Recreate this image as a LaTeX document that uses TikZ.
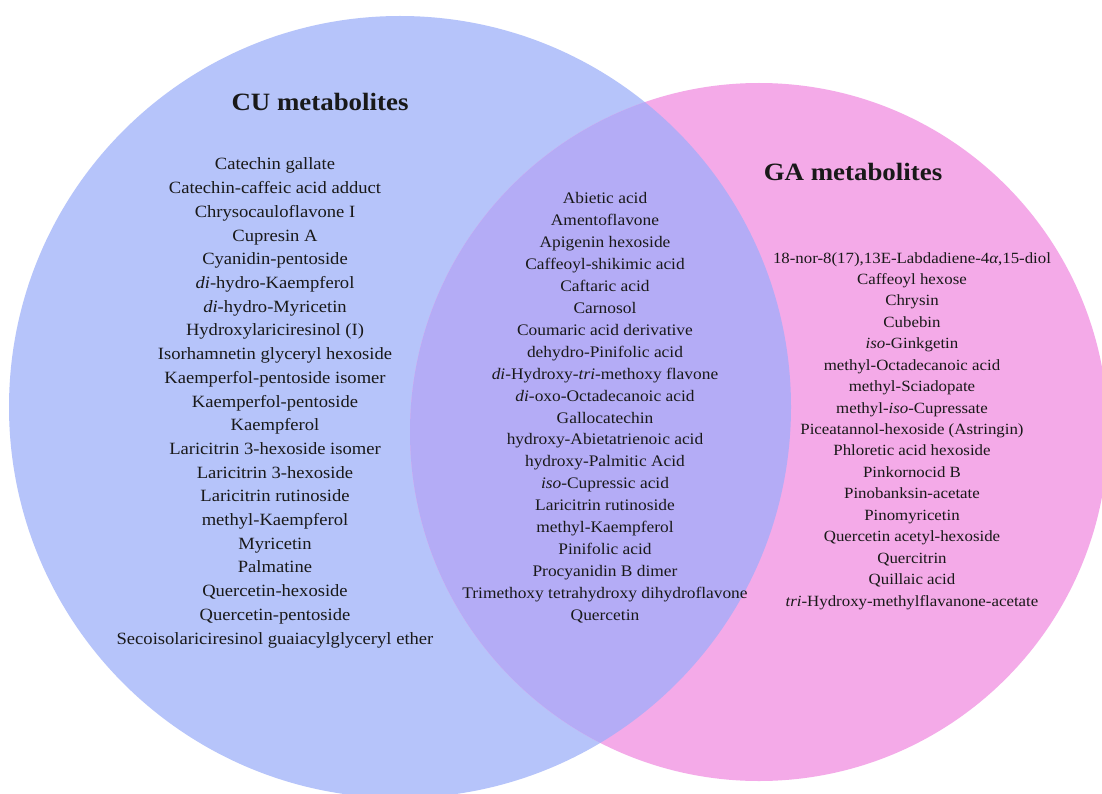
\documentclass[tikz,border=0pt]{standalone}
\usepackage{fontspec}
\setmainfont{Liberation Serif}[FakeStretch=1.08]
\definecolor{cublue}{RGB}{182,196,250}
\definecolor{gapink}{RGB}{244,170,232}
\definecolor{bothcol}{RGB}{180,172,246}
\definecolor{txt}{RGB}{25,25,25}
\begin{document}
\begin{tikzpicture}[x=1pt,y=-1pt,
  item/.style={anchor=base, text=txt, inner sep=0pt},
  cuitem/.style={item, font=\fontsize{17.2}{20}\selectfont},
  boitem/.style={item, font=\fontsize{16.1}{19}\selectfont},
  gaitem/.style={item, font=\fontsize{15.6}{18}\selectfont},
  ttl/.style={anchor=base, text=txt, inner sep=0pt, font=\fontsize{24.9}{29}\selectfont\bfseries}]
\useasboundingbox (0,0) rectangle (1102,794);
\clip (0,0) rectangle (1102,794);
\fill[white] (0,0) rectangle (1102,794);
\fill[cublue] (400,407) circle[radius=391];
\fill[gapink] (759,432) circle[radius=349];
\begin{scope}
  \clip (400,407) circle[radius=391];
  \fill[bothcol] (759,432) circle[radius=349];
\end{scope}
\node[ttl] (cut) at (320,111) {CU metabolites};
\node[ttl] (gat) at (853,181) {GA metabolites};
\foreach \t [count=\i] in {{Catechin gallate},{Catechin-caffeic acid adduct},{Chrysocauloflavone I},{Cupresin A},{Cyanidin-pentoside},{\textit{di}-hydro-Kaempferol},{\textit{di}-hydro-Myricetin},{Hydroxylariciresinol (I)},{Isorhamnetin glyceryl hexoside},{Kaemperfol-pentoside isomer},{Kaemperfol-pentoside},{Kaempferol},{Laricitrin 3-hexoside isomer},{Laricitrin 3-hexoside},{Laricitrin rutinoside},{methyl-Kaempferol},{Myricetin},{Palmatine},{Quercetin-hexoside},{Quercetin-pentoside},{Secoisolariciresinol guaiacylglyceryl ether}}
  \node[cuitem] (cu\i) at (275,{170+(\i-1)*23.7}) {\t};
\foreach \t [count=\i] in {{Abietic acid},{Amentoflavone},{Apigenin hexoside},{Caffeoyl-shikimic acid},{Caftaric acid},{Carnosol},{Coumaric acid derivative},{dehydro-Pinifolic acid},{\textit{di}-Hydroxy-\textit{tri}-methoxy flavone},{\textit{di}-oxo-Octadecanoic acid},{Gallocatechin},{hydroxy-Abietatrienoic acid},{hydroxy-Palmitic Acid},{\textit{iso}-Cupressic acid},{Laricitrin rutinoside},{methyl-Kaempferol},{Pinifolic acid},{Procyanidin B dimer},{Trimethoxy tetrahydroxy dihydroflavone},{Quercetin}}
  \node[boitem] (bo\i) at (605,{204+(\i-1)*21.9}) {\t};
\foreach \t [count=\i] in {{18-nor-8(17),13E-Labdadiene-4\textit{α},15-diol},{Caffeoyl hexose},{Chrysin},{Cubebin},{\textit{iso}-Ginkgetin},{methyl-Octadecanoic acid},{methyl-Sciadopate},{methyl-\textit{iso}-Cupressate},{Piceatannol-hexoside (Astringin)},{Phloretic acid hexoside},{Pinkornocid B},{Pinobanksin-acetate},{Pinomyricetin},{Quercetin acetyl-hexoside},{Quercitrin},{Quillaic acid},{\textit{tri}-Hydroxy-methylflavanone-acetate}}
  \node[gaitem] (ga\i) at (912,{263+(\i-1)*21.44}) {\t};
\end{tikzpicture}
\end{document}
